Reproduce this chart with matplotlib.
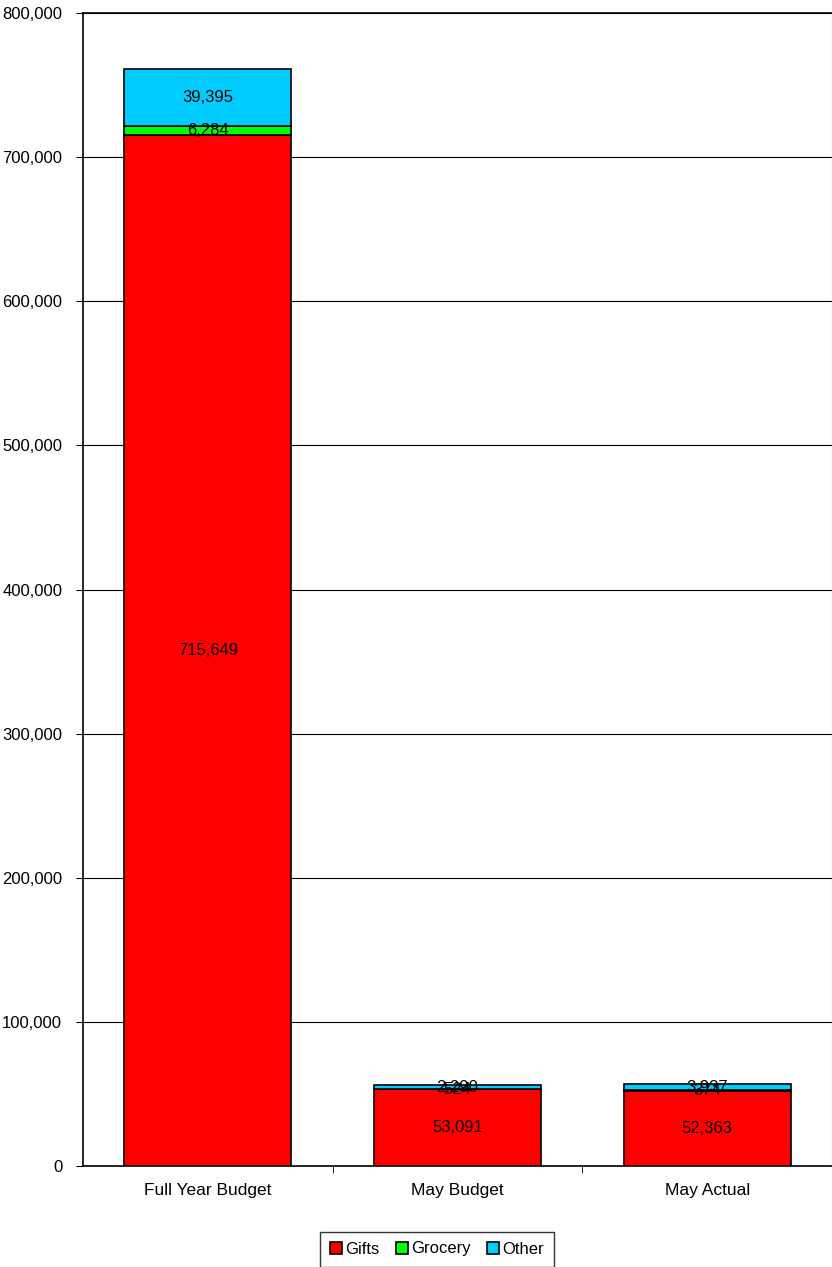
import matplotlib.pyplot as plt
import numpy as np

plt.rcParams['font.family'] = ['Liberation Sans', 'DejaVu Sans']
plt.rcParams['font.size'] = 12

categories = ['Full Year Budget', 'May Budget', 'May Actual']
gifts = [715649, 53091, 52363]
grocery = [6284, 524, 374]
other = [39395, 2290, 3937]
series = [('Gifts', gifts, '#ff0000'), ('Grocery', grocery, '#00ff00'), ('Other', other, '#00ccff')]

fig = plt.figure(figsize=(8.32, 12.67), dpi=100)
ax = fig.add_axes([83/832, 1 - 1166/1267, 749/832, (1166 - 13)/1267])

x = np.arange(len(categories))
bottom = np.zeros(len(categories))
for name, vals, col in series:
    vals = np.array(vals, dtype=float)
    ax.bar(x, vals, 0.67, bottom=bottom, color=col, edgecolor='black', linewidth=1.2, label=name, zorder=3)
    for xi, b, v in zip(x, bottom, vals):
        ax.text(xi, b + v / 2, f'{int(v):,}', ha='center', va='center', fontsize=12, zorder=4)
    bottom += vals

ax.set_xlim(-0.5, 2.5)
ax.set_ylim(0, 800000)
ax.set_yticks(np.arange(0, 800001, 100000))
ax.yaxis.set_major_formatter(plt.FuncFormatter(lambda v, p: f'{int(v):,}'))
ax.yaxis.grid(True, color='black', linewidth=0.8, zorder=0)
ax.set_xticks(x)
ax.set_xticklabels(categories, fontsize=12.5)
ax.set_xticks([0.5, 1.5], minor=True)
ax.tick_params(axis='x', which='major', length=0, pad=12)
ax.tick_params(axis='x', which='minor', length=5, color='black')
ax.tick_params(axis='y', length=5, pad=10)
ax.spines['right'].set_color('#999999')
for s in ['left', 'bottom', 'top']:
    ax.spines[s].set_linewidth(1.2)

leg = fig.legend(loc='center', bbox_to_anchor=(437/832, 1 - 1249/1267), ncol=3,
                 frameon=True, fancybox=False, edgecolor='black', handlelength=0.7,
                 handleheight=0.7, handletextpad=0.2, columnspacing=1.0, borderpad=0.6)
leg.get_frame().set_linewidth(1.0)

fig.savefig('out.png', dpi=100)
